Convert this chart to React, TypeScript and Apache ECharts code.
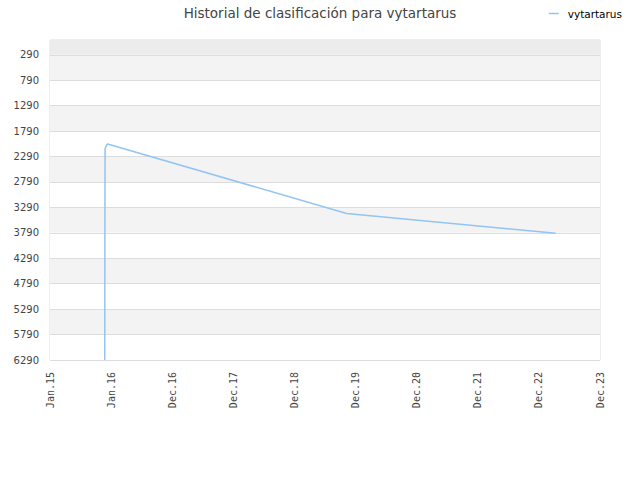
import React, { useEffect, useRef } from "react";
import * as echarts from "echarts";

const TITLE = "Historial de clasificación para vytartarus";
const SERIES_NAME = "vytartarus";

// Ranking history (date, rank)
const dates = [
  "2015-11-24",
  "2015-11-25",
  "2015-11-26",
  "2015-12-01",
  "2015-12-11",
  "2019-11-08",
  "2023-04-09",
];
const ranks = [6290, 3595, 2140, 2094, 2045, 3410, 3800];

// Axis tick values
const yTicks = [290, 790, 1290, 1790, 2290, 2790, 3290, 3790, 4290, 4790, 5290, 5790, 6290];
const Y_MIN = 0;
const Y_MAX = 6290;
const X_STEP_DAYS = 365;
const X_STEPS = 9;
const MONTHS = ["Jan", "Feb", "Mar", "Apr", "May", "Jun", "Jul", "Aug", "Sep", "Oct", "Nov", "Dec"];

const DAY_MS = 86400000;
const startMs = Date.UTC(2015, 0, 1);
const toDays = (d: string) => {
  const [y, m, dd] = d.split("-").map(Number);
  return (Date.UTC(y, m - 1, dd) - startMs) / DAY_MS;
};
const fmtDay = (v: number) => {
  const d = new Date(startMs + Math.round(v) * DAY_MS);
  return MONTHS[d.getUTCMonth()] + "." + String(d.getUTCFullYear() % 100).padStart(2, "0");
};

export default function App() {
  const ref = useRef<HTMLDivElement>(null);
  useEffect(() => {
    if (!ref.current) return;
    const chart = echarts.init(ref.current, null, { renderer: "svg" });
    const data = dates.map((d, i) => [toDays(d), ranks[i]]);
    const font = "DejaVu Sans";
    chart.setOption({
      animation: false,
      backgroundColor: "#ffffff",
      title: {
        text: TITLE,
        left: "center",
        top: 1,
        textStyle: { fontFamily: font, fontSize: 13.5, fontWeight: "normal", color: "#444444" },
      },
      legend: {
        right: 13,
        top: 3,
        icon: "rect",
        itemWidth: 10,
        itemHeight: 1.5,
        itemGap: 10,
        textStyle: { fontFamily: font, fontSize: 10.5, color: "#000000", padding: [0, 0, 0, 4] },
        data: [SERIES_NAME],
      },
      grid: {
        left: 50,
        right: 40,
        top: 40,
        bottom: 120,
        show: true,
        borderColor: "#dddddd",
        borderWidth: 1,
        backgroundColor: "transparent",
      },
      xAxis: {
        type: "value",
        min: 0,
        max: X_STEP_DAYS * X_STEPS,
        interval: X_STEP_DAYS,
        axisLine: { show: false },
        axisTick: { show: false },
        splitLine: { show: false },
        axisLabel: {
          rotate: 90,
          margin: 12,
          fontFamily: "DejaVu Sans Mono",
          fontSize: 10,
          color: "#444444",
          formatter: (v: number) => fmtDay(v),
        },
      },
      yAxis: {
        type: "value",
        inverse: true,
        min: Y_MIN,
        max: Y_MAX,
        axisLine: { show: false },
        axisTick: { show: false, customValues: yTicks },
        splitLine: { show: true, lineStyle: { color: "#dddddd", width: 1 } },
        splitArea: { show: true, areaStyle: { color: ["#f3f3f3", "#ffffff"] } },
        axisLabel: {
          margin: 11,
          fontFamily: font,
          fontSize: 10,
          color: "#444444",
          customValues: yTicks,
          formatter: (v: number) => String(v),
        },
      },
      series: [
        {
          name: SERIES_NAME,
          type: "line",
          data,
          showSymbol: false,
          symbol: "none",
          color: "#92c4f4",
          lineStyle: { color: "#92c4f4", width: 1.5 },
          markArea: {
            silent: true,
            itemStyle: { color: "#ececec" },
            data: [[{ yAxis: Y_MIN }, { yAxis: yTicks[0] }]],
          },
        },
      ],
    });
    return () => chart.dispose();
  }, []);
  return (
    <div
      ref={ref}
      style={{ position: "fixed", left: 0, top: 0, width: 640, height: 480 }}
    />
  );
}
